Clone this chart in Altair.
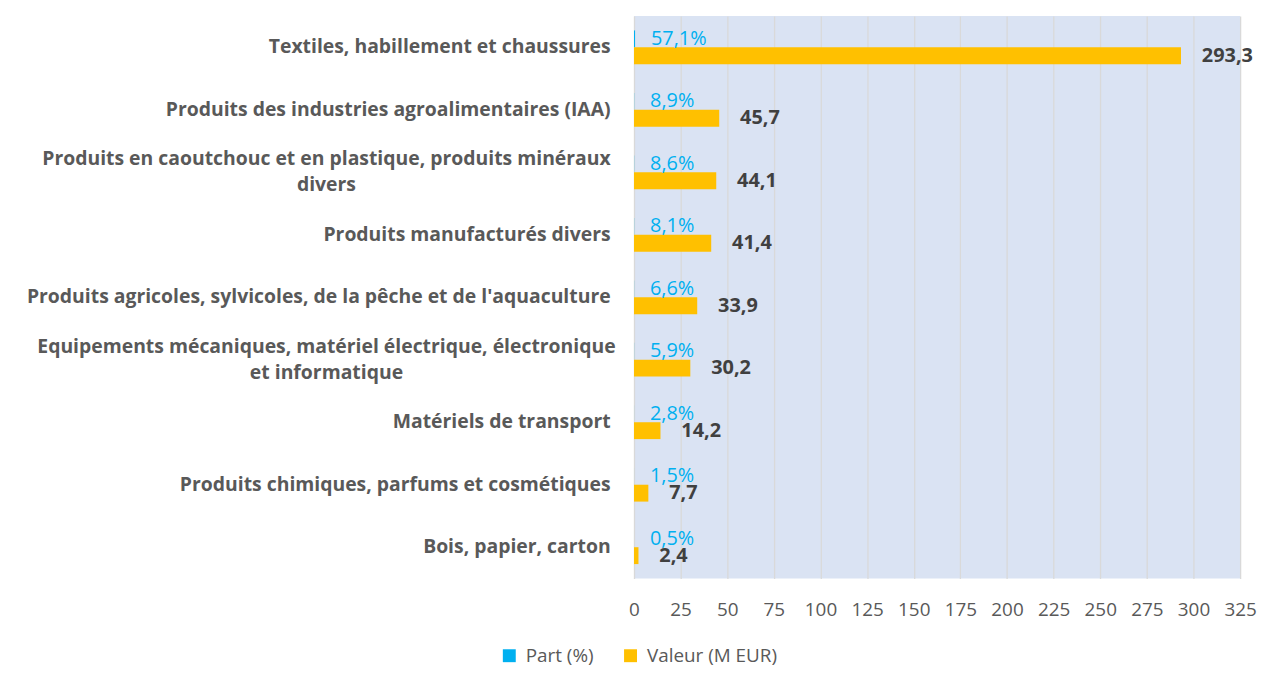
import altair as alt
import pandas as pd

categories = [
    "Textiles, habillement et chaussures",
    "Produits des industries agroalimentaires (IAA)",
    "Produits en caoutchouc et en plastique, produits minéraux\ndivers",
    "Produits manufacturés divers",
    "Produits agricoles, sylvicoles, de la pêche et de l'aquaculture",
    "Equipements mécaniques, matériel électrique, électronique\net informatique",
    "Matériels de transport",
    "Produits chimiques, parfums et cosmétiques",
    "Bois, papier, carton",
]
part_pct = [57.1, 8.9, 8.6, 8.1, 6.6, 5.9, 2.8, 1.5, 0.5]
valeur = [293.3, 45.7, 44.1, 41.4, 33.9, 30.2, 14.2, 7.7, 2.4]
series = ["Part (%)", "Valeur (M EUR)"]
series_colors = ["#00B0F0", "#FFC000"]
x_ticks = list(range(0, 326, 25))


def fr(v, suffix=""):
    return f"{v:.1f}".replace(".", ",") + suffix


rows = []
for c, p, v in zip(categories, part_pct, valeur):
    rows.append({"category": c, "series": series[0], "value": p / 100, "label": fr(p, "%")})
    rows.append({"category": c, "series": series[1], "value": v, "label": fr(v)})
df = pd.DataFrame(rows)

FONT = "Open Sans"
WRAPPED = "indexof(datum.value, '\\n') >= 0"

y_enc = alt.Y(
    "category:N",
    sort=categories,
    title=None,
    scale=alt.Scale(paddingInner=0.46, paddingOuter=0.23),
    axis=alt.Axis(
        labelExpr="split(datum.label, '\\n')",
        labelFont=FONT,
        labelFontSize=19.5,
        labelFontWeight="bold",
        labelColor="#595959",
        labelAlign={"condition": {"test": WRAPPED, "value": "center"}, "value": "right"},
        labelPadding={"condition": {"test": WRAPPED, "value": 310}, "value": 24},
        labelOffset={"condition": {"test": WRAPPED, "value": -13}, "value": 0},
        labelLimit=700,
        labelLineHeight=26,
        ticks=False,
        domain=False,
        grid=False,
    ),
)
yoff_enc = alt.YOffset("series:N", sort=series, scale=alt.Scale(paddingInner=0, paddingOuter=0))
x_enc = alt.X(
    "value:Q",
    title=None,
    scale=alt.Scale(domain=[0, 325], nice=False),
    axis=alt.Axis(
        values=x_ticks,
        labelFont=FONT,
        labelFontSize=19,
        labelColor="#595959",
        labelPadding=22,
        labelOverlap=False,
        labelFlush=False,
        ticks=False,
        domain=False,
        grid=True,
        gridColor="#D9D9D9",
        gridWidth=1.3,
    ),
)

base = alt.Chart(df).encode(y=y_enc, yOffset=yoff_enc, x=x_enc)

bars = base.mark_bar().encode(
    color=alt.Color(
        "series:N",
        sort=series,
        scale=alt.Scale(domain=series, range=series_colors),
        legend=alt.Legend(
            title=None,
            orient="none",
            direction="horizontal",
            legendX=-135,
            legendY=634,
            symbolType="square",
            symbolSize=169,
            symbolStrokeWidth=0,
            labelFont=FONT,
            labelFontSize=19,
            labelColor="#595959",
            labelOffset=7,
            columnPadding=27,
            padding=0,
        ),
    )
)

text_part = (
    base.transform_filter(alt.datum.series == series[0])
    .mark_text(align="left", baseline="middle", dx=16, font=FONT, fontSize=20, color="#00B0F0")
    .encode(text="label:N")
)
text_val = (
    base.transform_filter(alt.datum.series == series[1])
    .mark_text(align="left", baseline="middle", dx=21, font=FONT, fontSize=20, fontWeight="bold", color="#404040")
    .encode(text="label:N")
)

chart = (
    alt.layer(bars, text_part, text_val)
    .properties(
        width=610,
        height=566,
        autosize=alt.AutoSizeParams(type="none"),
        padding={"left": 630, "top": 6, "right": 18, "bottom": 87},
        background="white",
    )
    .configure_view(fill="#DAE3F3", strokeWidth=0)
)

chart.save("out.html", embed_options={"renderer": "svg", "actions": False})
